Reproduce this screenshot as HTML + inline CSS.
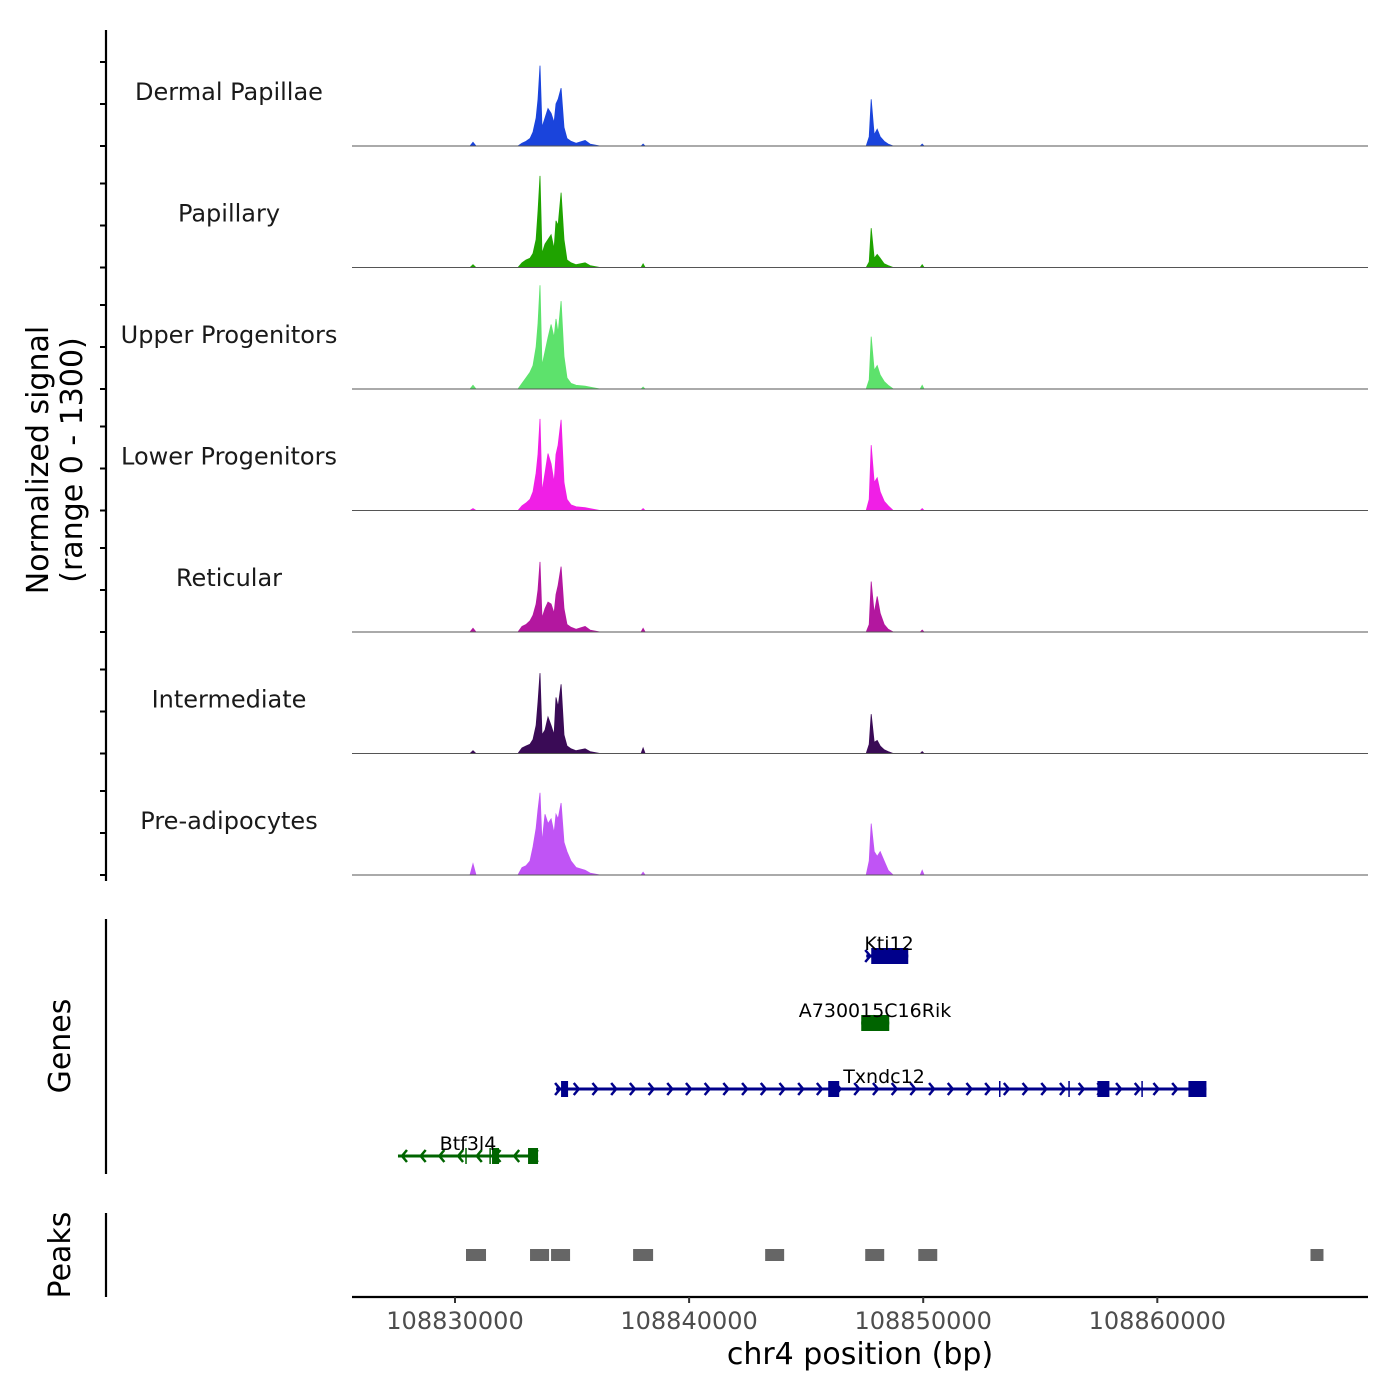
<!DOCTYPE html>
<html><head><meta charset="utf-8"><style>
html,body{margin:0;padding:0;background:#fff;}
svg{display:block;font-family:"DejaVu Sans","Liberation Sans",sans-serif;}
</style></head><body>
<svg id="chart" width="1400" height="1400" viewBox="0 0 1400 1400" xmlns="http://www.w3.org/2000/svg">
<rect width="1400" height="1400" fill="#fff"/>
</svg>
<script>
const NS="http://www.w3.org/2000/svg";
const svg=document.getElementById('chart');
// ---- data ----
const trackNames=["Dermal Papillae","Papillary","Upper Progenitors","Lower Progenitors","Reticular","Intermediate","Pre-adipocytes"];
const trackColors=["#1a44dc","#1fa300","#5de26c","#f01fe6","#b3179f","#3a0b56","#c054f5"];
const binOffsets=[30641,30769,30897,32692,32863,33034,33205,33333,33462,33547,33632,33718,33846,33974,34103,34231,34316,34402,34530,34658,34786,34957,35171,35556,35769,36197,37950,38034,38120,47564,47692,47778,47906,48034,48162,48333,48504,48718,49870,49957,50040];
const dermalPapillae=[0,40,0,0,30,50,80,150,300,500,860,200,300,400,350,250,450,500,620,200,80,50,30,60,20,0,0,20,0,0,100,500,120,180,100,50,20,0,0,20,0];
const papillary=[0,30,0,0,50,80,100,150,300,600,980,150,250,300,350,200,500,450,800,300,80,50,30,50,20,0,0,40,0,0,60,420,100,140,100,40,20,0,0,30,0];
const upperProg=[0,40,0,0,60,120,180,250,450,700,1110,250,400,550,690,550,750,600,940,350,120,60,40,30,20,0,0,20,0,0,100,560,200,250,150,80,40,0,0,40,0];
const lowerProg=[0,20,0,0,50,80,120,200,400,600,980,200,400,610,500,300,600,700,970,300,120,60,40,30,20,0,0,20,0,0,120,700,300,350,200,100,50,0,0,20,0];
const reticular=[0,40,0,0,60,80,120,180,300,450,750,150,250,320,300,200,400,500,700,250,80,50,30,60,20,0,0,40,0,0,80,540,200,380,200,80,30,0,0,20,0];
const intermediate=[0,30,0,0,60,80,100,150,300,550,860,200,250,390,300,200,600,500,740,200,80,50,30,50,20,0,0,60,0,0,100,420,120,140,80,40,20,0,0,20,0];
const preAdipo=[0,120,0,0,80,100,150,300,500,700,880,350,650,550,600,450,650,600,770,350,250,150,80,50,20,0,0,30,0,0,150,550,250,200,250,150,50,0,0,50,0];
const trackValues=[dermalPapillae,papillary,upperProg,lowerProg,reticular,intermediate,preAdipo];
const peakStarts=[108830470,108833205,108834103,108837608,108843249,108847523,108849789,108866543];
const peakEnds=[108831325,108834017,108834915,108838462,108844060,108848334,108850600,108867098];
const xTicks=[108830000,108840000,108850000,108860000];
const chrom="chr4";
// ---- scales ----
const X0=352,X1=1368,D0=108825600,D1=108869000,BASE=108800000;
const xs=v=>X0+(v-D0)/(D1-D0)*(X1-X0);
const YMAX=1300,TH=121.5,TOP=26;
const base=i=>TOP+TH*(i+1)-1.5;
const ys=(i,v)=>base(i)-v/YMAX*TH;
function el(tag,attrs,parent){const e=document.createElementNS(NS,tag);for(const k in attrs)e.setAttribute(k,attrs[k]);(parent||svg).appendChild(e);return e;}
function txt(s,attrs,parent){const t=el('text',attrs,parent);t.textContent=s;return t;}
// left axis signal
const ax=el('g',{});


el('line',{x1:106,y1:30,x2:106,y2:881,stroke:'#000','stroke-width':2.2},ax);
for(let i=0;i<7;i++){for(let k=0;k<3;k++){const y=base(i)-k*42;el('line',{x1:100,x2:106,y1:y,y2:y,stroke:'#000','stroke-width':2},ax);}}
const yt=txt('',{transform:'translate(54,460) rotate(-90)','text-anchor':'middle','font-size':30,fill:'#000'});


el('tspan',{x:0,dy:-6},yt).textContent='Normalized signal';
el('tspan',{x:0,dy:34},yt).textContent='(range 0 - 1300)';
// tracks
trackNames.forEach((name,i)=>{
  const g=el('g',{});
  
  
  const vals=trackValues[i];
  let d='M'+X0+','+base(i)+' L'+xs(BASE+binOffsets[0]).toFixed(1)+','+base(i);
  binOffsets.forEach((o,j)=>{d+=' L'+xs(BASE+o).toFixed(1)+','+ys(i,vals[j]).toFixed(1);});
  d+=' L'+X1+','+base(i)+' Z';
  const p=el('path',{d:d,fill:trackColors[i],stroke:trackColors[i],'stroke-width':0.8},g);
  
  
  el('line',{x1:X0,x2:X1,y1:base(i),y2:base(i),stroke:'#555','stroke-width':1},g);
  const t=txt(name,{x:229,y:base(i)-46,'text-anchor':'middle','font-size':24,fill:'#1a1a1a'},g);
  
  
});
// genes
const gg=el('g',{});


el('line',{x1:106,y1:919,x2:106,y2:1174,stroke:'#000','stroke-width':2.2},gg);
const gt=txt('Genes',{transform:'translate(70,1046) rotate(-90)','text-anchor':'middle','font-size':30},gg);


const genes=[
 {name:'Kti12',y:956,s:108847566,e:108849361,strand:1,col:'#00008b',exons:[[108847780,108849361]],marks:[],lx:889},
 {name:'A730015C16Rik',y:1023,s:108847353,e:108848549,strand:0,col:'#006400',exons:[[108847353,108848549]],marks:[],lx:875},
 {name:'Txndc12',y:1089,s:108834317,e:108862098,strand:1,col:'#00008b',exons:[[108834530,108834830],[108845942,108846412],[108857440,108857953],[108861329,108862098]],marks:[108853270,108856230,108859350],lx:884},
 {name:'Btf3l4',y:1156,s:108827564,e:108833547,strand:-1,col:'#006400',exons:[[108831581,108831880],[108833120,108833547]],marks:[108830470,108831500],lx:468}
];
genes.forEach(G=>{
  const g=el('g',{},gg);
  
  
  const a=xs(G.s),b=xs(G.e);
  el('line',{x1:a,x2:b,y1:G.y,y2:G.y,stroke:G.col,'stroke-width':3},g);
  if(G.strand!==0){for(let x=a+4;x<b-2;x+=18.7){const dx=G.strand*5;el('polyline',{points:(x-dx)+','+(G.y-6)+' '+x+','+G.y+' '+(x-dx)+','+(G.y+6),fill:'none',stroke:G.col,'stroke-width':2.5},g);}}
  G.marks.forEach(m=>el('line',{x1:xs(m),x2:xs(m),y1:G.y-8,y2:G.y+8,stroke:G.col,'stroke-width':1.5},g));
  G.exons.forEach(ex=>el('rect',{x:xs(ex[0]),y:G.y-8,width:Math.max(6,xs(ex[1])-xs(ex[0])),height:16,fill:G.col},g));
  txt(G.name,{x:G.lx,y:G.y-6,'text-anchor':'middle','font-size':19,fill:'#000'},g);
});
// peaks
const pg=el('g',{});


el('line',{x1:106,y1:1213,x2:106,y2:1297,stroke:'#000','stroke-width':2.2},pg);
const pt=txt('Peaks',{transform:'translate(70,1255) rotate(-90)','text-anchor':'middle','font-size':30},pg);


peakStarts.forEach((s,i)=>{
  const r=el('rect',{x:xs(s),y:1249,width:xs(peakEnds[i])-xs(s),height:12,fill:'#666'},pg);
  
  
});
// x axis
const xg=el('g',{});


el('line',{x1:X0,x2:X1,y1:1297,y2:1297,stroke:'#000','stroke-width':2.2},xg);
xTicks.forEach(v=>{
  el('line',{x1:xs(v),x2:xs(v),y1:1297,y2:1303,stroke:'#333','stroke-width':2},xg);
  const t=txt(String(v),{x:xs(v),y:1329,'text-anchor':'middle','font-size':24,fill:'#4d4d4d'},xg);
  
  
});
const xt=txt(chrom+' position (bp)',{x:860,y:1364,'text-anchor':'middle','font-size':30,fill:'#000'},xg);


</script>
</body></html>
